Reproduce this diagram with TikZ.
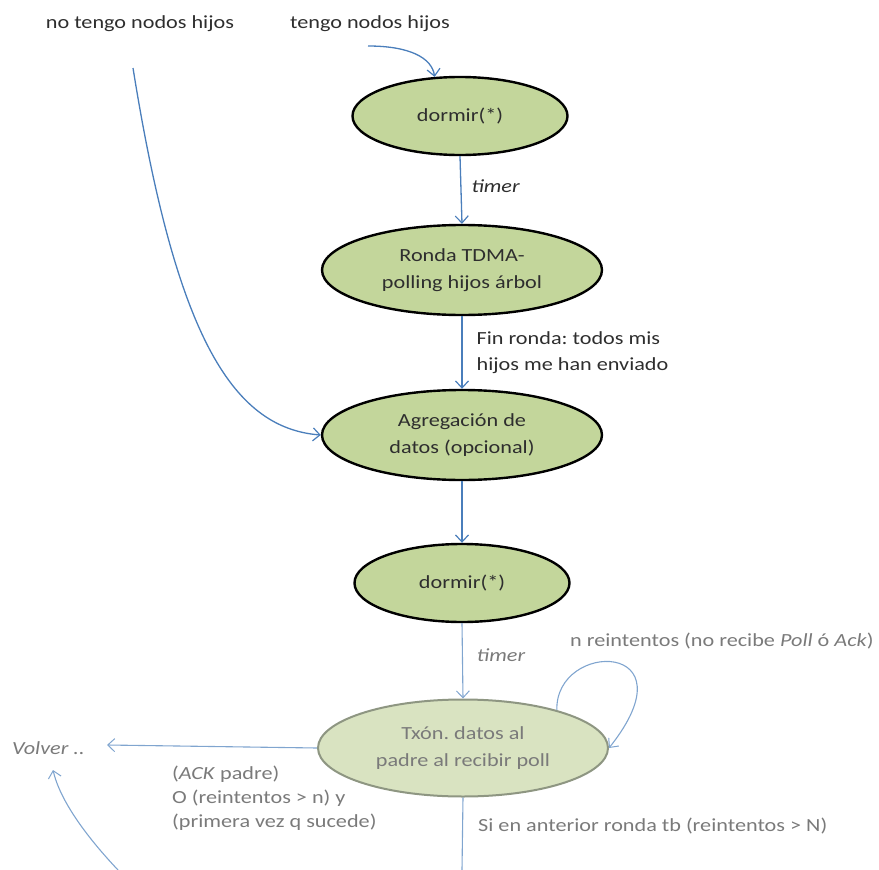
\documentclass[tikz,border=0pt]{standalone}
\usepackage{fontspec}
\setmainfont{Carlito}[FakeStretch=1.2]
\usetikzlibrary{shapes.geometric,arrows.meta}
\definecolor{olive}{HTML}{C3D69B}
\definecolor{paleolive}{HTML}{D9E3C1}
\definecolor{fadedborder}{HTML}{8E9682}
\definecolor{arrowblue}{HTML}{4A7EBB}
\definecolor{txtdark}{HTML}{2E2E2E}
\definecolor{txtgray}{HTML}{7A7A7A}
\tikzset{
  statebox/.style={ellipse, draw=black, line width=2.4pt, fill=olive, align=center, inner sep=0pt, text=txtdark, font=\fontsize{18.5}{27}\selectfont},
  fadedbox/.style={ellipse, draw=fadedborder, line width=2pt, fill=paleolive, align=center, inner sep=0pt, text=txtgray, font=\fontsize{18.5}{27}\selectfont},
  conn/.style={draw=arrowblue, line width=1.3pt, -{Straight Barb[length=7pt,width=13pt,line width=1.2pt]}},
  fadedconn/.style={draw=arrowblue!70, line width=1.1pt, -{Straight Barb[length=7pt,width=13pt,line width=1pt]}},
  lbl/.style={text=txtdark, align=left, inner sep=0pt},
  glbl/.style={text=txtgray, align=left, inner sep=0pt},
}
\begin{document}
\frenchspacing
\begin{tikzpicture}[x=1pt,y=-1pt,font=\fontsize{18.5}{26}\selectfont]
\useasboundingbox (0,0) rectangle (879,870);
\node[lbl] (notengo) at (140,24) {no tengo nodos hijos};
\node[lbl] (tengo) at (370,24) {tengo nodos hijos};
\coordinate (tengoend) at (368,46);
\coordinate (notengoend) at (133,68);

\node[statebox, minimum width=215pt, minimum height=78pt] (d1) at (460,116) {dormir(*)};
\node[statebox, minimum width=280pt, minimum height=90pt] (ronda) at (462,270) {Ronda TDMA-\\polling hijos árbol};
\node[statebox, minimum width=280pt, minimum height=90pt] (agreg) at (462,435) {Agregación de\\datos (opcional)};
\node[statebox, minimum width=215pt, minimum height=78pt] (d2) at (462,583) {dormir(*)};
\node[fadedbox, minimum width=290pt, minimum height=97pt] (tx) at (463,748) {Txón. datos al\\padre al recibir poll};

\node[glbl, anchor=west] (volver) at (12,748) {\itshape Volver ..};
\coordinate (volverin) at (53,770);
\coordinate (volvertip) at (107,745);
\coordinate (bottomend) at (462,870);
\coordinate (leftend) at (118,870);

\draw[conn] (tengoend) .. controls (410,46) and (432,58) .. (d1.123);
\draw[conn] (d1.south) -- node[lbl, right=10pt, pos=0.45] {\itshape timer} (ronda.north);
\draw[conn] (ronda.south) -- node[lbl, right=14pt, pos=0.5] {Fin ronda: todos mis\\hijos me han enviado} (agreg.north);
\draw[conn] (notengoend) .. controls (175,330) and (230,428) .. (agreg.west);
\draw[conn] (agreg.south) -- (d2.north);
\draw[fadedconn] (d2.south) -- node[glbl, right=14pt, pos=0.42] {\itshape timer} (tx.north);
\draw[fadedconn] (tx.22) .. controls (555,640) and (695,640) .. (tx.east);
\node[glbl, anchor=west] (nre) at (570,641) {n reintentos (no recibe \textit{Poll} ó \textit{Ack})};
\draw[fadedconn] (tx.west) -- (volvertip);
\node[glbl, anchor=north west, font=\fontsize{18.5}{24}\selectfont] (ackl) at (172,766) {(\textit{ACK} padre)\\O (reintentos > n) y\\(primera vez q sucede)};
\draw[fadedconn, -] (tx.south) -- (bottomend);
\node[glbl, anchor=west] (si) at (478,826) {Si en anterior ronda tb (reintentos > N)};
\draw[fadedconn] (leftend) .. controls (85,835) and (60,800) .. (volverin);
\end{tikzpicture}
\end{document}
